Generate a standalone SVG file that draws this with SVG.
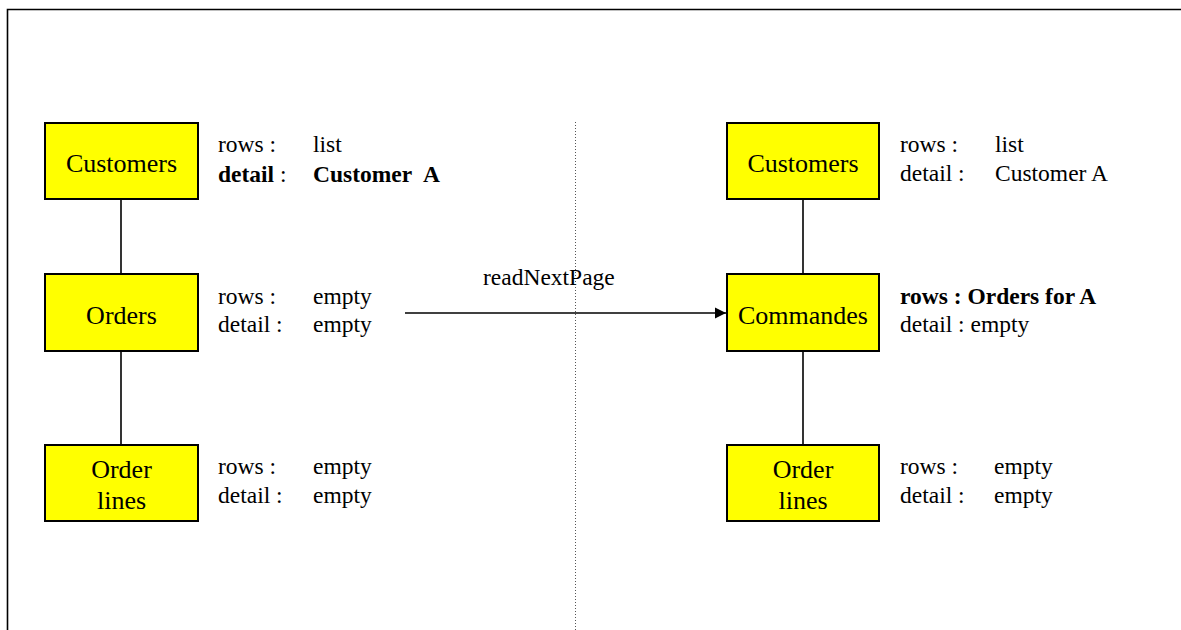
<svg xmlns="http://www.w3.org/2000/svg" width="1181" height="630" viewBox="0 0 1181 630">
<style>
.box{fill:#ffff00;stroke:#000;stroke-width:2}
.lbl{font-family:"Liberation Serif","Times New Roman",serif;font-size:26px;fill:#000;text-anchor:middle}
.t{font-family:"Liberation Serif","Times New Roman",serif;font-size:23.5px;fill:#000}
.b{font-weight:bold}
.conn{stroke:#000;stroke-width:1.6;fill:none}
</style>
<defs>
<marker id="ah" markerWidth="12" markerHeight="12" refX="11" refY="6" orient="auto" markerUnits="userSpaceOnUse">
<path d="M0,0.5 L11,6 L0,11.5 Z" fill="#000"/>
</marker>
</defs>
<rect x="0" y="0" width="1181" height="630" fill="#fff"/>
<g id="frame">
<path d="M7.5,630 V9.5 H1181" fill="none" stroke="#000" stroke-width="1.6"/>
<line x1="575.5" y1="122" x2="575.5" y2="630" stroke="#555" stroke-width="1" stroke-dasharray="1,2"/>
</g>
<g id="connectors">
<line class="conn" x1="121" y1="199" x2="121" y2="274"/>
<line class="conn" x1="121" y1="351" x2="121" y2="445"/>
<line class="conn" x1="803" y1="199" x2="803" y2="274"/>
<line class="conn" x1="803" y1="351" x2="803" y2="445"/>
<line class="conn" x1="405" y1="313" x2="726" y2="313" marker-end="url(#ah)"/>
<text class="t" x="483" y="285">readNextPage</text>
</g>
<g id="customers-left">
<rect class="box" x="45" y="123" width="153" height="76"/>
<text class="lbl" x="121.5" y="172">Customers</text>
<text class="t" x="218" y="152">rows :</text>
<text class="t" x="313" y="152">list</text>
<text class="t" x="218" y="182"><tspan class="b">detail</tspan> :</text>
<text class="t b" x="313" y="182">Customer<tspan x="423">A</tspan></text>
</g>
<g id="orders-left">
<rect class="box" x="45" y="274" width="153" height="77"/>
<text class="lbl" x="121.5" y="324">Orders</text>
<text class="t" x="218" y="304">rows :</text>
<text class="t" x="313" y="304">empty</text>
<text class="t" x="218" y="332">detail :</text>
<text class="t" x="313" y="332">empty</text>
</g>
<g id="orderlines-left">
<rect class="box" x="45" y="445" width="153" height="76"/>
<text class="lbl" x="121.5" y="478">Order</text>
<text class="lbl" x="121.5" y="509">lines</text>
<text class="t" x="218" y="474">rows :</text>
<text class="t" x="313" y="474">empty</text>
<text class="t" x="218" y="503">detail :</text>
<text class="t" x="313" y="503">empty</text>
</g>
<g id="customers-right">
<rect class="box" x="727" y="123" width="152" height="76"/>
<text class="lbl" x="803" y="172">Customers</text>
<text class="t" x="900" y="152">rows :</text>
<text class="t" x="995" y="152">list</text>
<text class="t" x="900" y="181">detail :</text>
<text class="t" x="995" y="181">Customer A</text>
</g>
<g id="commandes-right">
<rect class="box" x="727" y="274" width="152" height="77"/>
<text class="lbl" x="803" y="324">Commandes</text>
<text class="t b" x="900" y="304">rows : Orders for A</text>
<text class="t" x="900" y="332">detail : empty</text>
</g>
<g id="orderlines-right">
<rect class="box" x="727" y="445" width="152" height="76"/>
<text class="lbl" x="803" y="478">Order</text>
<text class="lbl" x="803" y="509">lines</text>
<text class="t" x="900" y="474">rows :</text>
<text class="t" x="994" y="474">empty</text>
<text class="t" x="900" y="503">detail :</text>
<text class="t" x="994" y="503">empty</text>
</g>
</svg>
